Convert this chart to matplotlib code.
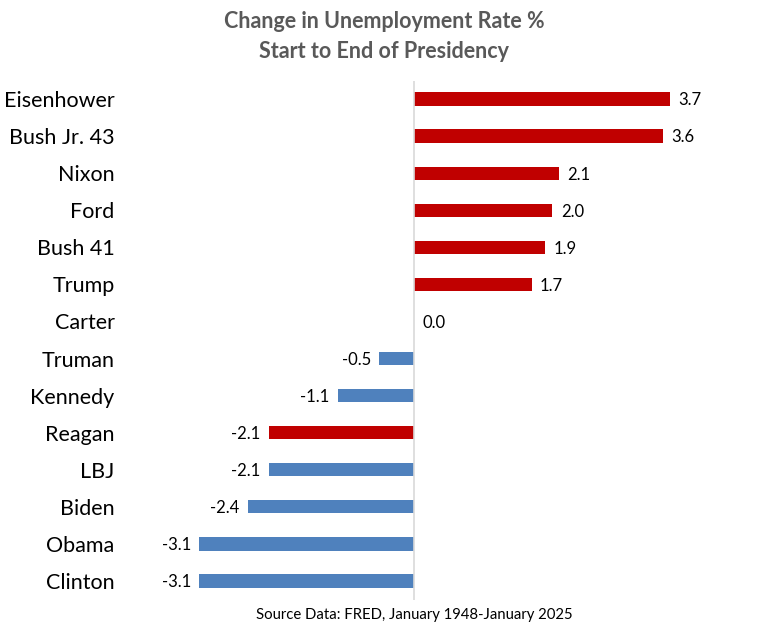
import numpy as np
import matplotlib.pyplot as plt

presidents = ["Eisenhower", "Bush Jr. 43", "Nixon", "Ford", "Bush 41", "Trump", "Carter",
              "Truman", "Kennedy", "Reagan", "LBJ", "Biden", "Obama", "Clinton"]
change = [3.7, 3.6, 2.1, 2.0, 1.9, 1.7, 0.0, -0.5, -1.1, -2.1, -2.1, -2.4, -3.1, -3.1]
party = ["R", "R", "R", "R", "R", "R", "D", "D", "D", "R", "D", "D", "D", "D"]

RED = "#C00000"
BLUE = "#4F81BD"
colors = [RED if p == "R" else BLUE for p in party]

plt.rcParams["font.family"] = ["Lato", "DejaVu Sans"]

fig = plt.figure(figsize=(7.68, 6.31), dpi=100)
ax = fig.add_axes([130 / 768, 1 - 599.5 / 631, 590 / 768, 519 / 631])

y = np.arange(len(presidents))[::-1]
ax.barh(y, change, height=0.36, color=colors)

ax.set_xlim(-4.104, 4.422)
ax.set_ylim(-0.5, len(presidents) - 0.5)
ax.axvline(0, color="#D9D9D9", lw=1.2)

ax.set_yticks(y)
ax.set_yticklabels(presidents, fontsize=15.5, color="#000000")
ax.tick_params(axis="y", length=0, pad=11)
ax.set_xticks([])
for s in ax.spines.values():
    s.set_visible(False)

for yi, v in zip(y, change):
    if v >= 0:
        ax.annotate(f"{v:.1f}", (v, yi), xytext=(6, -1), textcoords="offset points",
                    ha="left", va="center", fontsize=12)
    else:
        ax.annotate(f"{v:.1f}", (v, yi), xytext=(-6, -1), textcoords="offset points",
                    ha="right", va="center", fontsize=12)

fig.text(0.5, 0.982, "Change in Unemployment Rate %\nStart to End of Presidency",
         ha="center", va="top", fontsize=15.5, fontweight="bold", color="#595959",
         linespacing=1.5)
fig.text(414 / 768, 1 - 615 / 631, "Source Data: FRED, January 1948-January 2025",
         ha="center", va="center", fontsize=10.7)

fig.savefig("out.png", dpi=100)
